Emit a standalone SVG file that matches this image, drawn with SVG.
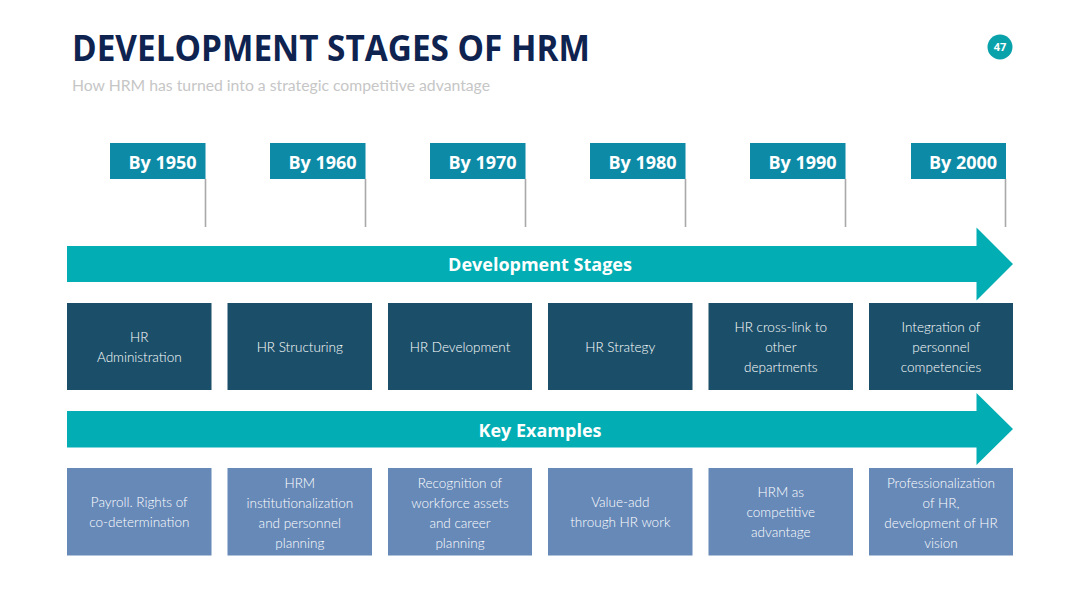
<svg xmlns="http://www.w3.org/2000/svg" width="1080" height="608" viewBox="0 0 1080 608">
<style>
.flag{fill:#0d8aa5}
.pole{stroke:#a9a9a9;stroke-width:1.6}
.ftxt{font-family:"Open Sans","Liberation Sans",sans-serif;font-weight:bold;font-size:18px;fill:#fff;text-anchor:middle}
.arr{fill:#02aeb3}
.atxt{font-family:"Open Sans","Liberation Sans",sans-serif;font-weight:bold;font-size:18px;fill:#fff;text-anchor:middle}
.dbox{fill:#1b4f69}
.lbox{fill:#6689b8}
.btxt{font-family:Lato,"Liberation Sans",sans-serif;font-size:13.5px;font-weight:300;fill:#fff;text-anchor:middle}
</style>
<rect width="1080" height="608" fill="#fff"/>
<text x="72" y="61" font-family="'Open Sans','Liberation Sans',sans-serif" font-weight="bold" font-size="36" fill="#0f2350" textLength="518" lengthAdjust="spacingAndGlyphs">DEVELOPMENT STAGES OF HRM</text>
<text x="72" y="91" font-family="Lato,'Liberation Sans',sans-serif" font-size="15.5" fill="#c6c6c6" textLength="418" lengthAdjust="spacingAndGlyphs">How HRM has turned into a strategic competitive advantage</text>
<g id="page">
<circle cx="1000" cy="47" r="12.5" fill="#0aa2aa"/>
<text x="1000" y="51" font-family="'Open Sans','Liberation Sans',sans-serif" font-weight="bold" font-size="11" fill="#fff" text-anchor="middle">47</text>
</g>
<g id="flags">
<g id="flag1950"><line class="pole" x1="205.5" y1="179" x2="205.5" y2="227"/><rect class="flag" x="110" y="143" width="95.5" height="36"/><text class="ftxt" x="162.5" y="169">By 1950</text></g>
<g id="flag1960"><line class="pole" x1="365.5" y1="179" x2="365.5" y2="227"/><rect class="flag" x="270" y="143" width="95.5" height="36"/><text class="ftxt" x="322.5" y="169">By 1960</text></g>
<g id="flag1970"><line class="pole" x1="525.5" y1="179" x2="525.5" y2="227"/><rect class="flag" x="430" y="143" width="95.5" height="36"/><text class="ftxt" x="482.5" y="169">By 1970</text></g>
<g id="flag1980"><line class="pole" x1="685.5" y1="179" x2="685.5" y2="227"/><rect class="flag" x="590" y="143" width="95.5" height="36"/><text class="ftxt" x="642.5" y="169">By 1980</text></g>
<g id="flag1990"><line class="pole" x1="845.5" y1="179" x2="845.5" y2="227"/><rect class="flag" x="750" y="143" width="95.5" height="36"/><text class="ftxt" x="802.5" y="169">By 1990</text></g>
<g id="flag2000"><line class="pole" x1="1005.5" y1="179" x2="1005.5" y2="227"/><rect class="flag" x="911" y="143" width="95" height="36"/><text class="ftxt" x="963" y="169">By 2000</text></g>
</g>
<g id="arrow-stages">
<polygon class="arr" points="67,246 976.5,246 976.5,227.5 1013,264 976.5,300.5 976.5,282 67,282"/>
<text class="atxt" x="540" y="271">Development Stages</text>
</g>
<g id="stages">
<g id="s1"><rect class="dbox" x="67" y="303" width="144.5" height="87"/><text class="btxt" x="139.3" y="342">HR</text><text class="btxt" x="139.3" y="362">Administration</text></g>
<g id="s2"><rect class="dbox" x="227.5" y="303" width="144.5" height="87"/><text class="btxt" x="299.8" y="352">HR Structuring</text></g>
<g id="s3"><rect class="dbox" x="388" y="303" width="144" height="87"/><text class="btxt" x="460" y="352">HR Development</text></g>
<g id="s4"><rect class="dbox" x="548" y="303" width="144.5" height="87"/><text class="btxt" x="620.3" y="352">HR Strategy</text></g>
<g id="s5"><rect class="dbox" x="708.5" y="303" width="144.5" height="87"/><text class="btxt" x="780.8" y="332">HR cross-link to</text><text class="btxt" x="780.8" y="352">other</text><text class="btxt" x="780.8" y="372">departments</text></g>
<g id="s6"><rect class="dbox" x="869" y="303" width="144" height="87"/><text class="btxt" x="941" y="332">Integration of</text><text class="btxt" x="941" y="352">personnel</text><text class="btxt" x="941" y="372">competencies</text></g>
</g>
<g id="arrow-examples">
<polygon class="arr" points="67,411 976.5,411 976.5,393 1013,429 976.5,465 976.5,447.5 67,447.5"/>
<text class="atxt" x="540" y="437">Key Examples</text>
</g>
<g id="examples">
<g id="e1"><rect class="lbox" x="67" y="468" width="144.5" height="87.5"/><text class="btxt" x="139.3" y="507">Payroll. Rights of</text><text class="btxt" x="139.3" y="527">co-determination</text></g>
<g id="e2"><rect class="lbox" x="227.5" y="468" width="144.5" height="87.5"/><text class="btxt" x="299.8" y="488">HRM</text><text class="btxt" x="299.8" y="508">institutionalization</text><text class="btxt" x="299.8" y="528">and personnel</text><text class="btxt" x="299.8" y="548">planning</text></g>
<g id="e3"><rect class="lbox" x="388" y="468" width="144" height="87.5"/><text class="btxt" x="460" y="488">Recognition of</text><text class="btxt" x="460" y="508">workforce assets</text><text class="btxt" x="460" y="528">and career</text><text class="btxt" x="460" y="548">planning</text></g>
<g id="e4"><rect class="lbox" x="548" y="468" width="144.5" height="87.5"/><text class="btxt" x="620.3" y="507">Value-add</text><text class="btxt" x="620.3" y="527">through HR work</text></g>
<g id="e5"><rect class="lbox" x="708.5" y="468" width="144.5" height="87.5"/><text class="btxt" x="780.8" y="497">HRM as</text><text class="btxt" x="780.8" y="517">competitive</text><text class="btxt" x="780.8" y="537">advantage</text></g>
<g id="e6"><rect class="lbox" x="869" y="468" width="144" height="87.5"/><text class="btxt" x="941" y="488">Professionalization</text><text class="btxt" x="941" y="508">of HR,</text><text class="btxt" x="941" y="528">development of HR</text><text class="btxt" x="941" y="548">vision</text></g>
</g>
</svg>
